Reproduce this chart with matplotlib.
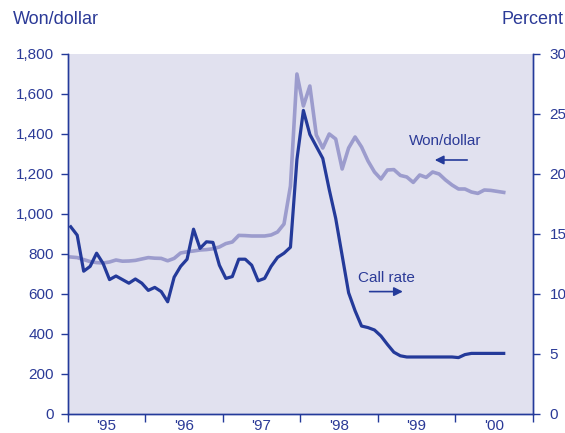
import matplotlib
matplotlib.use("Agg")
import matplotlib.pyplot as plt
from matplotlib.ticker import FuncFormatter, FixedLocator, NullFormatter
import numpy as np

plt.rcParams['font.family'] = ['Liberation Sans', 'DejaVu Sans']

# Monthly data, Jan 1995 .. Aug 2000
start_year = 1995
won_dollar = [785, 782, 772, 762, 757, 755, 760, 770, 764, 765, 768, 775,
              782, 779, 778, 766, 778, 805, 811, 815, 820, 822, 826, 835,
              852, 860, 893, 892, 890, 890, 890, 895, 910, 950, 1140, 1700,
              1540, 1640, 1395, 1330, 1400, 1375, 1225, 1330, 1385, 1335, 1265, 1210,
              1175, 1220, 1222, 1193, 1185, 1158, 1195, 1183, 1210, 1200, 1170, 1145,
              1125, 1125, 1110, 1103, 1120, 1118, 1113, 1108]
call_rate = [15.6, 14.9, 11.9, 12.3, 13.4, 12.55, 11.2, 11.5, 11.2, 10.9, 11.25, 10.9,
             10.3, 10.55, 10.2, 9.35, 11.4, 12.3, 12.9, 15.4, 13.8, 14.35, 14.3, 12.4,
             11.3, 11.45, 12.9, 12.9, 12.4, 11.1, 11.3, 12.3, 13.05, 13.4, 13.9, 21.2,
             25.3, 23.3, 22.3, 21.3, 18.7, 16.3, 13.2, 10.1, 8.6, 7.33, 7.2, 7.0,
             6.5, 5.8, 5.15, 4.85, 4.75, 4.75, 4.75, 4.75, 4.75, 4.75, 4.75, 4.75,
             4.7, 4.95, 5.05, 5.05, 5.05, 5.05, 5.05, 5.05]
year_labels = ["'95", "'96", "'97", "'98", "'99", "'00"]
left_ticks = [0, 200, 400, 600, 800, 1000, 1200, 1400, 1600, 1800]
right_ticks = [0, 5, 10, 15, 20, 25, 30]

TEXT = '#2b3a97'
DARK = '#243a9a'
LIGHT = '#9c9ccd'
BG = '#e1e1ef'

x = start_year + (np.arange(len(won_dollar)) + 0.5) / 12.0

fig = plt.figure(figsize=(5.65, 4.33), dpi=100)
ax = fig.add_axes([0.1195, 0.0439, 0.8235, 0.8314])
ax.set_facecolor(BG)
ax2 = ax.twinx()

ax.plot(x, won_dollar, color=LIGHT, lw=2.6, solid_joinstyle='round', zorder=2)
ax2.plot(x, call_rate, color=DARK, lw=2.3, solid_joinstyle='round', zorder=3)

ax.set_xlim(1995, 2001)
ax.set_ylim(0, 1800)
ax2.set_ylim(0, 30)

ax.set_yticks(left_ticks)
ax.yaxis.set_major_formatter(FuncFormatter(lambda v, p: f"{int(v):,}"))
ax2.set_yticks(right_ticks)

ax.xaxis.set_major_locator(FixedLocator(np.arange(1995, 2002)))
ax.xaxis.set_major_formatter(NullFormatter())
ax.xaxis.set_minor_locator(FixedLocator(np.arange(1995, 2001) + 0.5))
ax.set_xticklabels(year_labels, minor=True)

for a in (ax, ax2):
    a.spines['top'].set_visible(False)
    for s in ('left', 'right', 'bottom'):
        a.spines[s].set_color(DARK)
        a.spines[s].set_linewidth(1.0)
ax.tick_params(axis='y', colors=DARK, labelcolor=TEXT, labelsize=11,
               length=5, width=1, direction='out', pad=5)
ax2.tick_params(axis='y', colors=DARK, labelcolor=TEXT, labelsize=11,
                length=5, width=1, direction='out', pad=7)
ax.tick_params(axis='x', which='major', colors=DARK, length=6, width=1, direction='out')
ax.tick_params(axis='x', which='minor', length=0, labelsize=11, labelcolor=TEXT, pad=3.5)

fig.text(0.023, 0.955, 'Won/dollar', color=TEXT, fontsize=13, ha='left', va='center')
fig.text(0.997, 0.955, 'Percent', color=TEXT, fontsize=13, ha='right', va='center')

ax.text(1999.40, 1365, 'Won/dollar', color=TEXT, fontsize=11, ha='left', va='center')
ax.annotate('', xy=(1999.70, 1270), xytext=(2000.19, 1270),
            arrowprops=dict(arrowstyle='-|>', color=DARK, lw=1.2, mutation_scale=13))
ax2.text(1998.74, 11.3, 'Call rate', color=TEXT, fontsize=11, ha='left', va='center')
ax2.annotate('', xy=(1999.36, 10.2), xytext=(1998.86, 10.2),
             arrowprops=dict(arrowstyle='-|>', color=DARK, lw=1.2, mutation_scale=13))

fig.savefig('out.png', dpi=100)
